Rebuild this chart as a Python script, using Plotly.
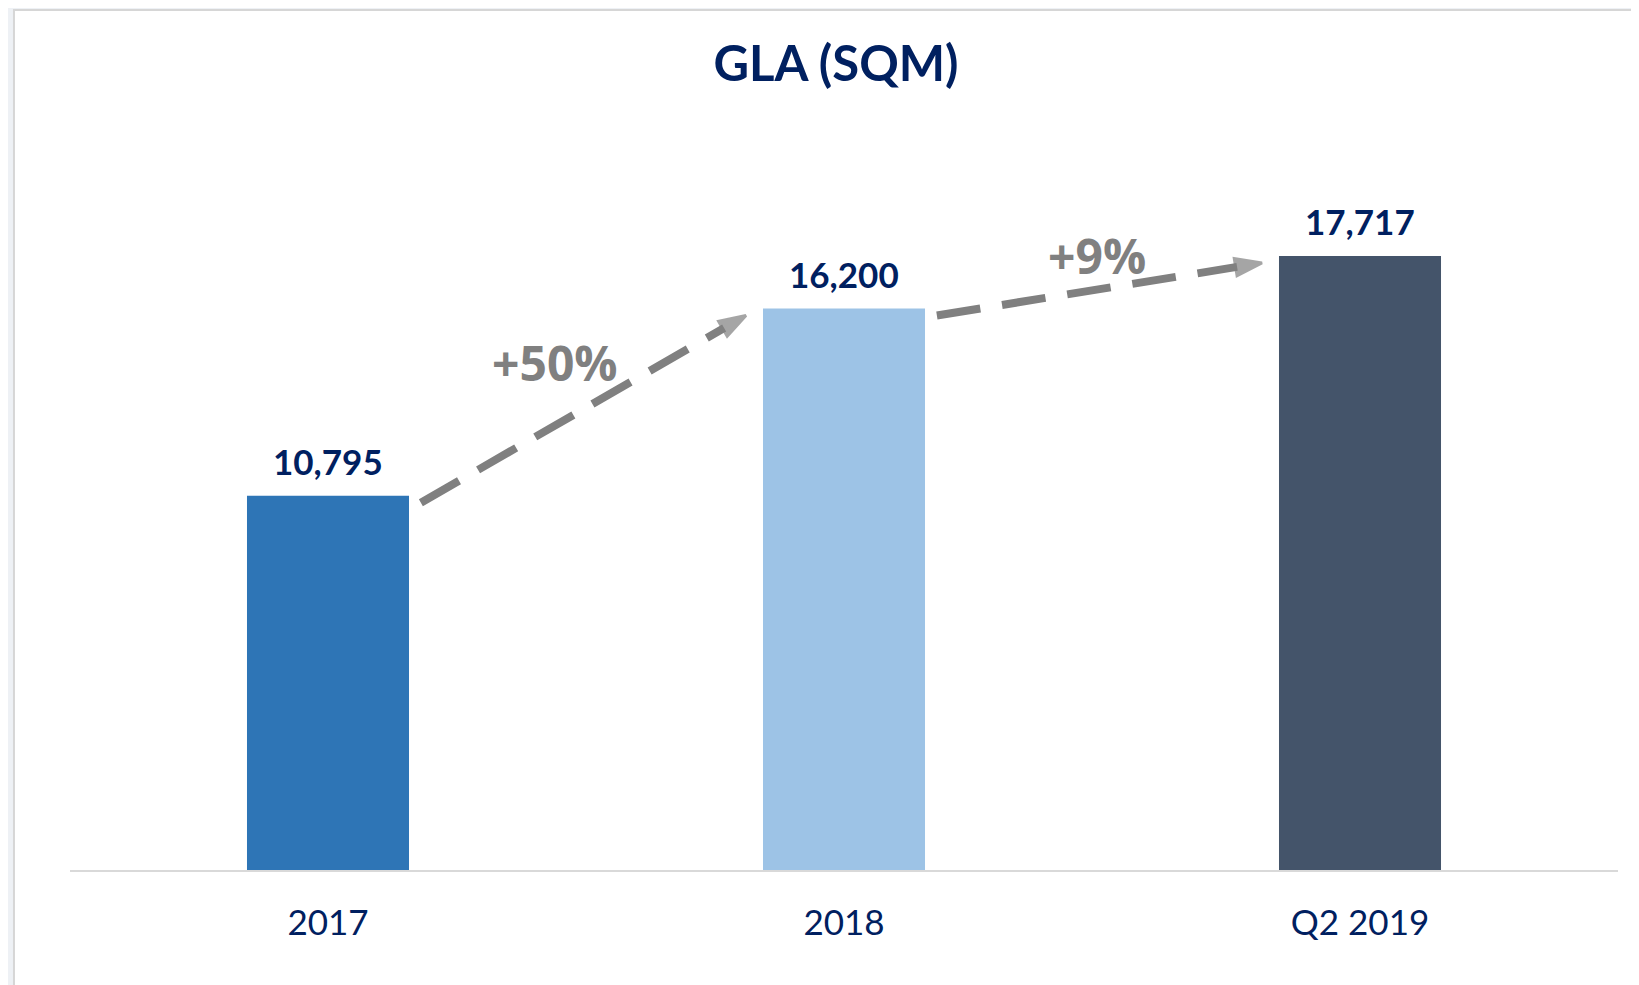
import plotly.graph_objects as go

# ---------------------------------------------------------------------------
# Data
# ---------------------------------------------------------------------------
categories = ["2017", "2018", "Q2 2019"]
gla_sqm = [10795, 16200, 17717]
bar_colors = ["#2e75b6", "#9dc3e6", "#44546a"]

# growth labels placed between bars (x in category units, y in sqm)
growth_x = [0.44, 1.49]
growth_y = [14630, 17717]

NAVY = "#002060"
GREY = "#808080"

x_pos = list(range(len(categories)))
bar_width = 0.314

fig = go.Figure()

fig.add_trace(
    go.Bar(
        x=x_pos,
        y=gla_sqm,
        width=bar_width,
        marker=dict(color=bar_colors, line=dict(width=0)),
        hoverinfo="skip",
    )
)

# value labels above bars
for xi, v in zip(x_pos, gla_sqm):
    fig.add_annotation(
        x=xi, y=v, xref="x", yref="y",
        text=f"{v:,}",
        showarrow=False,
        yanchor="bottom",
        yshift=12,
        font=dict(family="Lato", size=35, color=NAVY, weight="bold"),
    )

# dashed growth arrows from bar top to next bar top
for i in range(len(gla_sqm) - 1):
    fig.add_trace(
        go.Scatter(
            x=[x_pos[i] + 0.18, x_pos[i + 1] - 0.19],
            y=[gla_sqm[i] - 200, gla_sqm[i + 1] - 200],
            mode="lines+markers",
            line=dict(color=GREY, width=8, dash="44px,22px"),
            marker=dict(
                symbol=["circle", "arrow"],
                size=[0, 28],
                color=GREY,
                angleref="previous",
                line=dict(width=3, color=GREY),
            ),
            hoverinfo="skip",
        )
    )
    pct = round((gla_sqm[i + 1] / gla_sqm[i] - 1) * 100)
    fig.add_annotation(
        x=growth_x[i], y=growth_y[i], xref="x", yref="y",
        text=f"+{pct}%",
        showarrow=False,
        font=dict(family="Open Sans", size=48, color=GREY, weight="bold"),
    )

# white card with thin grey frame
fig.add_shape(
    type="rect", xref="paper", yref="paper",
    x0=-0.0362, x1=1.2, y0=-0.3, y1=1.1169,
    fillcolor="white", line=dict(color="#d6d6d6", width=2),
    layer="below",
)

fig.update_layout(
    width=1639,
    height=985,
    showlegend=False,
    paper_bgcolor="#eef1f5",
    plot_bgcolor="rgba(0,0,0,0)",
    margin=dict(l=62, r=29, t=92, b=123),
    title=dict(
        text="GLA (SQM)",
        x=828 / 1639, xanchor="center",
        y=1 - 56 / 985, yanchor="middle",
        xref="container", yref="container",
        font=dict(family="Lato", size=49, color=NAVY, weight="bold"),
    ),
    xaxis=dict(
        range=[-0.5, len(categories) - 0.5],
        tickvals=x_pos,
        ticktext=categories,
        showgrid=False,
        zeroline=False,
        showline=True,
        linecolor="#d9d9d9",
        linewidth=2,
        ticks="",
        ticklabelstandoff=21,
        tickfont=dict(family="Lato", size=35, color=NAVY),
    ),
    yaxis=dict(
        range=[0, max(gla_sqm) * 1.254],
        visible=False,
        showgrid=False,
        zeroline=False,
    ),
)

fig.write_html("out.html")
